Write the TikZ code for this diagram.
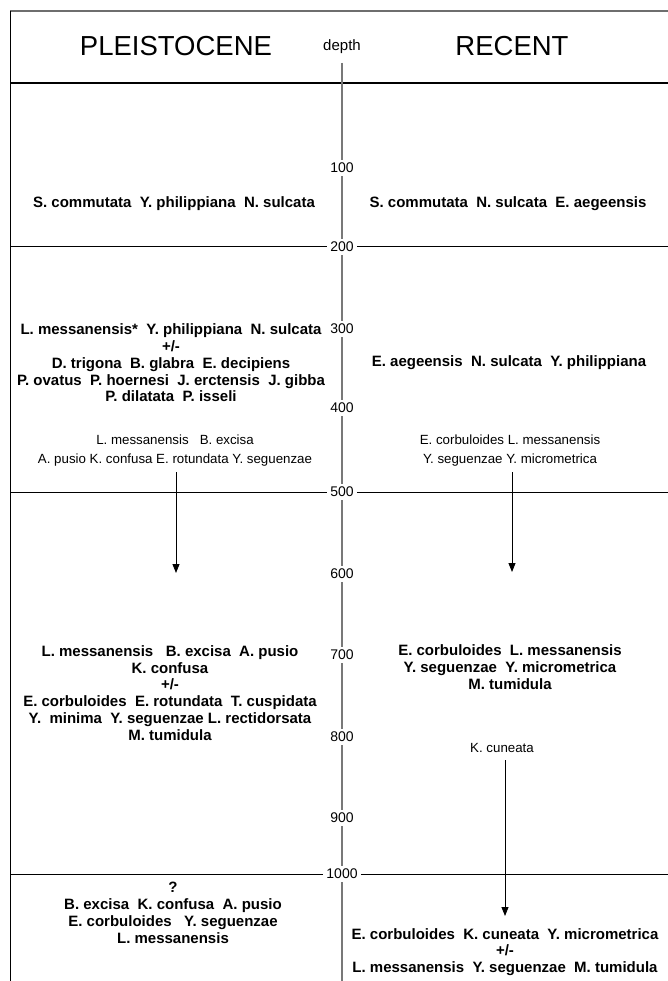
\documentclass[tikz,border=0pt]{standalone}
\usepackage{fontspec}
\setmainfont{Liberation Sans}
\usetikzlibrary{arrows.meta}
\definecolor{axisgray}{RGB}{120,120,120}
\definecolor{framegray}{RGB}{110,110,110}
\frenchspacing
\begin{document}
\begin{tikzpicture}[x=1pt,y=-1pt,
  sp/.style={font=\bfseries\fontsize{15}{16.8}\selectfont, align=center, inner sep=0pt},
  spsmall/.style={font=\fontsize{13.3}{19}\selectfont, align=center, inner sep=0pt},
  head/.style={font=\fontsize{27.5}{30}\selectfont, inner sep=0pt},
  num/.style={font=\fontsize{14}{14}\selectfont, fill=white, inner sep=3pt},
  hline/.style={line width=1pt, black},
  axisline/.style={line width=1.3pt, axisgray},
  arr/.style={-{Triangle[width=7pt,length=9pt]}, line width=0.9pt, black}]
\useasboundingbox (0,0) rectangle (668,981);
\fill[white] (0,0) rectangle (668,981);

% frame
\coordinate (tl) at (10,11);
\coordinate (tr) at (668,11);
\coordinate (bl) at (10,981);
\draw[line width=1.6pt, framegray] (tr) -- (tl);
\draw[hline] (tl) -- (bl);
\coordinate (h0l) at (10,83);
\coordinate (h0r) at (668,83);
\draw[line width=1.4pt] (h0l) -- (h0r);

% headers
\node[head] (pleis) at (176,46) {PLEISTOCENE};
\node[head] (recent) at (512,46) {RECENT};
\node[font=\fontsize{15}{15}\selectfont, inner sep=0pt] (depth) at (342,47) {depth};

% depth labels
\node[num] (d100) at (342,168) {100};
\node[num] (d200) at (342,247) {200};
\node[num] (d300) at (342,329) {300};
\node[num] (d400) at (342,408) {400};
\node[num] (d500) at (342,492) {500};
\node[num] (d600) at (342,574) {600};
\node[num] (d700) at (342,655) {700};
\node[num] (d800) at (342,737) {800};
\node[num] (d900) at (342,818) {900};
\node[num] (d1000) at (342,874) {1000};
\coordinate (axtop) at (342,63);
\coordinate (axbot) at (342,981);

% horizontal boundaries
\coordinate (h200l) at (10,247);  \coordinate (h200r) at (668,247);
\coordinate (h500l) at (10,492);  \coordinate (h500r) at (668,492);
\coordinate (h1000l) at (10,874); \coordinate (h1000r) at (668,874);
\draw[hline] (h200l) -- (d200) -- (h200r);
\draw[hline] (h500l) -- (d500) -- (h500r);
\draw[hline] (h1000l) -- (d1000) -- (h1000r);

% depth axis
\draw[axisline] (axtop) -- (d100);
\draw[axisline] (d100) -- (d200);
\draw[axisline] (d200) -- (d300);
\draw[axisline] (d300) -- (d400);
\draw[axisline] (d400) -- (d500);
\draw[axisline] (d500) -- (d600);
\draw[axisline] (d600) -- (d700);
\draw[axisline] (d700) -- (d800);
\draw[axisline] (d800) -- (d900);
\draw[axisline] (d900) -- (d1000);
\draw[axisline] (d1000) -- (axbot);

% 0-200
\node[sp] (p1) at (174,204) {S. commutata~~Y. philippiana~~N. sulcata};
\node[sp] (r1) at (508,204) {S. commutata~~N. sulcata~~E. aegeensis};

% 200-500
\node[sp] (p2) at (171,363) {L. messanensis*~~Y. philippiana~~N. sulcata\\ +/-\\ D. trigona~~B. glabra~~E. decipiens\\ P. ovatus~~P. hoernesi~~J. erctensis~~J. gibba\\ P. dilatata~~P. isseli};
\node[sp] (r2) at (509,363) {E. aegeensis~~N. sulcata~~Y. philippiana};
\node[spsmall] (p2s) at (175,451) {L. messanensis~~~B. excisa\\ A. pusio~K. confusa~E. rotundata~Y. seguenzae};
\node[spsmall] (r2s) at (510,451) {E. corbuloides~L. messanensis\\ Y. seguenzae~Y. micrometrica};
\coordinate (aL1) at (176,472); \coordinate (aL2) at (176,573);
\coordinate (aR1) at (512,472); \coordinate (aR2) at (512,572);
\draw[arr] (aL1) -- (aL2);
\draw[arr] (aR1) -- (aR2);

% 500-1000
\node[sp] (p3) at (170,693) {L. messanensis~~~B. excisa~~A. pusio\\ K. confusa\\ +/-\\ E. corbuloides~~E. rotundata~~T. cuspidata\\ Y.~~minima~~Y. seguenzae~L. rectidorsata\\ M. tumidula};
\node[sp] (r3) at (510,667) {E. corbuloides~~L. messanensis\\ Y. seguenzae~~Y. micrometrica\\ M. tumidula};
\node[spsmall] (kcun) at (502,748) {K. cuneata};
\coordinate (aK1) at (505,760); \coordinate (aK2) at (505,916);
\draw[arr] (aK1) -- (aK2);

% >1000
\node[sp] (p4) at (173,913) {?\\ B. excisa~~K. confusa~~A. pusio\\ E. corbuloides~~~Y. seguenzae\\ L. messanensis};
\node[sp] (r4) at (505,952) {E. corbuloides~~K. cuneata~~Y. micrometrica\\ +/-\\ L. messanensis~~Y. seguenzae~~M. tumidula};
\end{tikzpicture}
\end{document}
